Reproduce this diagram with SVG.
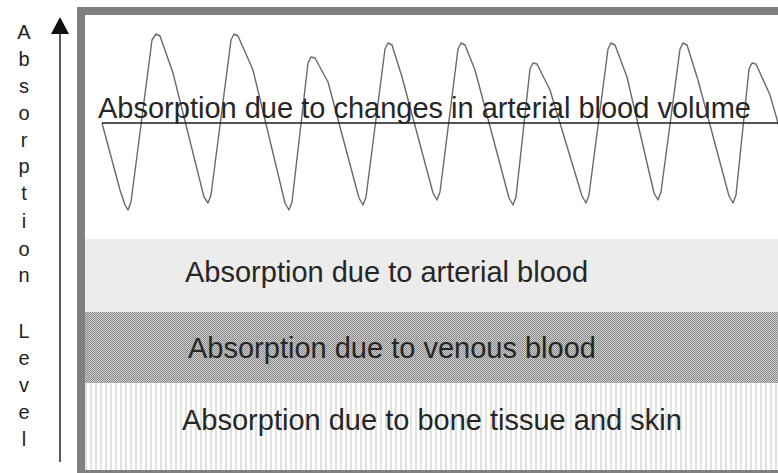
<svg xmlns="http://www.w3.org/2000/svg" width="778" height="473" viewBox="0 0 778 473">
<defs>
<pattern id="checker" width="2" height="2" patternUnits="userSpaceOnUse">
<rect width="2" height="2" fill="#cdcdcd"/>
<rect width="1" height="1" fill="#8a8a8a"/>
<rect x="1" y="1" width="1" height="1" fill="#8a8a8a"/>
</pattern>
<pattern id="stripes" width="5" height="10" patternUnits="userSpaceOnUse">
<rect width="5" height="10" fill="#ffffff"/>
<rect x="0" width="2" height="10" fill="#e2e2e2"/>
</pattern>
<style>
.lbl{font-family:"Liberation Sans",Arial,sans-serif;font-size:29px;fill:#262626}
.ax{font-family:"Liberation Sans",Arial,sans-serif;font-size:20px;fill:#222;text-anchor:middle}
</style>
</defs>
<rect width="778" height="473" fill="#ffffff"/>
<g id="band-arterial">
<rect x="85" y="239" width="720" height="73" fill="#ececec"/>
<text class="lbl" x="185" y="282">Absorption due to arterial blood</text>
</g>
<g id="band-venous">
<rect x="85" y="312" width="720" height="71" fill="url(#checker)"/>
<text class="lbl" x="188" y="358">Absorption due to venous blood</text>
</g>
<g id="band-bone">
<rect x="85" y="383" width="720" height="87" fill="url(#stripes)"/>
<text class="lbl" x="182" y="430">Absorption due to bone tissue and skin</text>
</g>
<g id="pulsatile">
<polyline fill="none" stroke="#6a6a6a" stroke-width="1.4" stroke-linejoin="round" points="102,123 120,190 125,205 128,210 131,202 152,40 156,34 160,36 173,73 204,197 208,203 211,195 231,40 234,34 238,36 253,70 285,203 289,210 292,202 308,63 311,57 315,58 328,82 359,198 363,205 366,197 385,49 388,43 392,45 402,77 433,193 437,200 440,192 458,49 461,43 465,45 475,70 509,198 513,205 516,197 530,69 533,63 537,64 550,90 582,196 586,203 589,195 608,49 611,43 615,45 627,77 654,193 658,200 661,192 680,49 683,43 687,45 698,80 729,196 733,203 736,195 749,69 752,63 756,64 770,95 790,165"/>
<line x1="102" y1="123" x2="790" y2="123" stroke="#1a1a1a" stroke-width="1.6"/>
<text class="lbl" x="98" y="118">Absorption due to changes in arterial blood volume</text>
</g>
<g id="frame">
<rect x="81" y="11" width="740" height="463" fill="none" stroke="#808080" stroke-width="8"/>
</g>
<g id="connectors">
<line x1="60" y1="30" x2="60" y2="462" stroke="#333" stroke-width="1.6"/>
<polygon points="60,17 51,34 69,34" fill="#111"/>
</g>
<g id="axis-label">
<text class="ax" x="24" y="39">A</text>
<text class="ax" x="24" y="66">b</text>
<text class="ax" x="24" y="93">s</text>
<text class="ax" x="24" y="120">o</text>
<text class="ax" x="24" y="147">r</text>
<text class="ax" x="24" y="173">p</text>
<text class="ax" x="24" y="200">t</text>
<text class="ax" x="24" y="228">i</text>
<text class="ax" x="24" y="256">o</text>
<text class="ax" x="24" y="282">n</text>
<text class="ax" x="24" y="338">L</text>
<text class="ax" x="24" y="365">e</text>
<text class="ax" x="24" y="392">v</text>
<text class="ax" x="24" y="419">e</text>
<text class="ax" x="24" y="446">l</text>
</g>
</svg>
